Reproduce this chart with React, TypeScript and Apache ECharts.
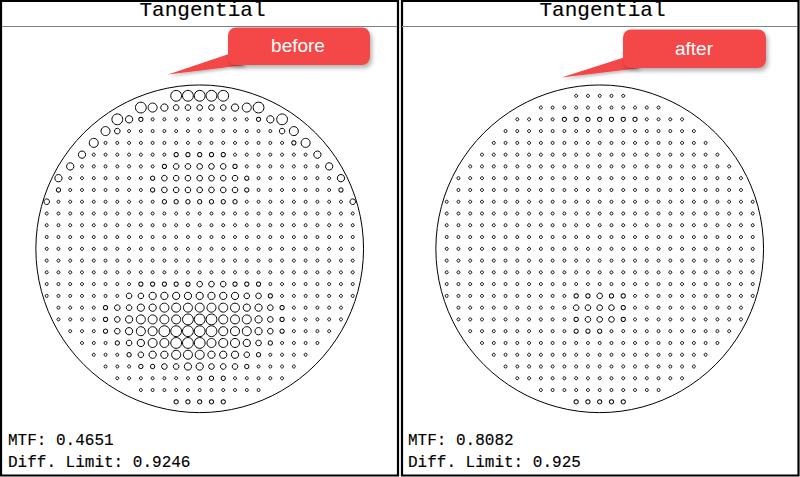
import { useEffect, useRef } from "react";
import * as echarts from "echarts";

// ---- data ----
const panelTitles = ["Tangential", "Tangential"];
const calloutLabels = ["before", "after"];
const mtfValues = ["0.4651", "0.8082"];
const diffLimits = ["0.9246", "0.925"];

// Spot sizes per pupil-grid row (top row first), run-length coded "level*count".
// Level 1 = smallest ring ... 6 = largest ring.
const beforeRows = [
  "6*5",
  "6,5,4,3*5,4,5,6",
  "6,4,2,1*9,2,4,6",
  "5,3,1*13,3,5",
  "5,1*16,2,5",
  "4,1*7,2*5,1*7,4",
  "4,1*7,2,3*5,2,1*7,4",
  "4,1*7,2,3*7,2,1*7,4",
  "2,1*7,2,3*7,2,1*7,2",
  "3,1*9,2*7,1*9,3",
  "1*27",
  "1*27",
  "1*27",
  "1*27",
  "1*27",
  "1*27",
  "1*8,2*5,3*3,2*3,1*8",
  "1*7,3*2,4*8,3*2,2,1*7",
  "1*4,2,3*2,4*2,5*7,4*2,3,2,1*5",
  "1*4,2,3,4,5*4,6*3,5*3,4,3,2,1*5",
  "1*3,2,3,4,5*2,6*5,5*3,4,3,2,1*4",
  "1*3,2,3,4,5*2,6*3,5*3,4,3,2,1*4",
  "1*3,2,3,4*2,5*3,4*3,3,2,1*4",
  "1*3,2*2,3*2,4*2,3*3,2,1*4",
  "1*7,2*3,1*5",
  "1*11",
  "2*5",
];

const afterRows = [
  "1*5",
  "1*11",
  "1*4,2*7,1*4",
  "1*17",
  "1*19",
  "1*21",
  "1*23",
  "1*25",
  "1*25",
  "1*27",
  "1*27",
  "1*27",
  "1*27",
  "1*27",
  "1*27",
  "1*27",
  "1*27",
  "1*11,2*2,3,2*2,1*11",
  "1*10,3*4,2,1*10",
  "1*10,2,3*3,2,1*10",
  "1*9,2*3,1*11",
  "1*21",
  "1*19",
  "1*17",
  "1*15",
  "1*11",
  "2*5",
];

// pupil outline radius in grid units
const pupilRadius = 13.92;

// ---- styling ----
const levelSizes = [0, 3.0, 4.3, 5.6, 7.3, 9.0, 10.8];
const RED = "#f44646";

function decodeRow(s: string): number[] {
  const out: number[] = [];
  s.split(",").forEach((tok) => {
    const [lv, n] = tok.split("*");
    const count = n ? parseInt(n, 10) : 1;
    for (let i = 0; i < count; i++) out.push(parseInt(lv, 10));
  });
  return out;
}

function buildPoints(rows: string[]): number[][] {
  const pts: number[][] = [];
  const mid = (rows.length - 1) / 2;
  rows.forEach((row, r) => {
    const levels = decodeRow(row);
    const half = (levels.length - 1) / 2;
    levels.forEach((lv, i) => pts.push([i - half, r - mid, lv]));
  });
  return pts;
}

export default function App() {
  const ref = useRef<HTMLDivElement>(null);

  useEffect(() => {
    if (!ref.current) return;
    const chart = echarts.init(ref.current, null, { renderer: "svg" });
    const panels = [buildPoints(beforeRows), buildPoints(afterRows)];
    const centers = [199.7, 599.7];
    const cy = 248.8;
    const half = 14 * 11.77;

    const outline = (params: any, api: any) => {
      const c = api.coord([0, 0]);
      const s = api.size([pupilRadius, pupilRadius]);
      return {
        type: "circle",
        shape: { cx: c[0], cy: c[1], r: s[0] },
        style: { fill: "none", stroke: "#000", lineWidth: 1 },
      };
    };

    const monoText = (text: string, x: number, y: number, size: number, align: string) => ({
      type: "text",
      x,
      y,
      style: {
        text,
        fontFamily: "Liberation Mono",
        fontSize: size,
        fill: "#000",
        stroke: "#000",
        lineWidth: 0.15,
        textAlign: align,
        textVerticalAlign: "middle",
        align,
        verticalAlign: "middle",
      },
      z: 10,
    });

    const graphic: any[] = [];
    const panelX = [0, 400];
    panelX.forEach((px, i) => {
      graphic.push({
        type: "rect",
        shape: i === 0 ? { x: 1, y: 1, width: 397, height: 474.5 } : { x: 402, y: 1, width: 396.5, height: 474.5 },
        style: { fill: "none", stroke: "#000", lineWidth: 2.2 },
        z: 10,
      });
      graphic.push({
        type: "line",
        shape: { x1: px + 2, y1: 26.5, x2: px + 397, y2: 26.5 },
        style: { stroke: "#808080", lineWidth: 1 },
        z: 10,
      });
      graphic.push(monoText(panelTitles[i], px + 202.5, 10.5, 21, "center"));
      graphic.push(monoText("MTF: " + mtfValues[i], px + 8, 441, 16, "left"));
      graphic.push(monoText("Diff. Limit: " + diffLimits[i], px + 8, 463, 16, "left"));
    });

    // callouts
    const callouts = [
      { rect: { x: 228, y: 27.5, width: 142, height: 37.5 }, tail: [[229, 54], [168, 74.5], [246, 65]], tx: 298, ty: 45.5 },
      { rect: { x: 623, y: 29.5, width: 143, height: 38.5 }, tail: [[624, 57.5], [561.5, 77.5], [641, 68]], tx: 694, ty: 48.5 },
    ];
    callouts.forEach((c, i) => {
      graphic.push({
        type: "polygon",
        shape: { points: c.tail },
        style: { fill: RED, shadowBlur: 3, shadowOffsetX: 1, shadowOffsetY: 2, shadowColor: "rgba(0,0,0,0.25)" },
        z: 20,
      });
      graphic.push({
        type: "rect",
        shape: { ...c.rect, r: 8 },
        style: { fill: RED, shadowBlur: 4, shadowOffsetX: 2, shadowOffsetY: 3, shadowColor: "rgba(0,0,0,0.3)" },
        z: 21,
      });
      graphic.push({
        type: "text",
        x: c.tx,
        y: c.ty,
        style: {
          text: calloutLabels[i],
          fontFamily: "Liberation Sans, Arial, sans-serif",
          fontSize: 19,
          fill: "#fff",
          textAlign: "center",
          textVerticalAlign: "middle",
          align: "center",
          verticalAlign: "middle",
        },
        z: 22,
      });
    });

    const option: any = {
      animation: false,
      backgroundColor: "#fff",
      grid: centers.map((cx) => ({
        left: cx - half,
        top: cy - half,
        width: half * 2,
        height: half * 2,
        containLabel: false,
      })),
      xAxis: centers.map((_, i) => ({ type: "value", gridIndex: i, min: -14, max: 14, show: false })),
      yAxis: centers.map((_, i) => ({ type: "value", gridIndex: i, min: -14, max: 14, show: false, inverse: true })),
      series: panels.flatMap((pts, i) => [
        {
          type: "custom",
          xAxisIndex: i,
          yAxisIndex: i,
          data: [[0, 0]],
          renderItem: outline,
          silent: true,
          z: 1,
        },
        {
          type: "scatter",
          xAxisIndex: i,
          yAxisIndex: i,
          data: pts,
          symbol: "circle",
          symbolSize: (v: number[]) => levelSizes[v[2]],
          itemStyle: { color: "rgba(255,255,255,0)", borderColor: "#000", borderWidth: 1, opacity: 1 },
          silent: true,
          z: 2,
        },
      ]),
      graphic,
    };
    chart.setOption(option);
    return () => chart.dispose();
  }, []);

  return (
    <div
      ref={ref}
      style={{ position: "fixed", left: 0, top: 0, width: 800, height: 477, background: "#fff" }}
    />
  );
}
